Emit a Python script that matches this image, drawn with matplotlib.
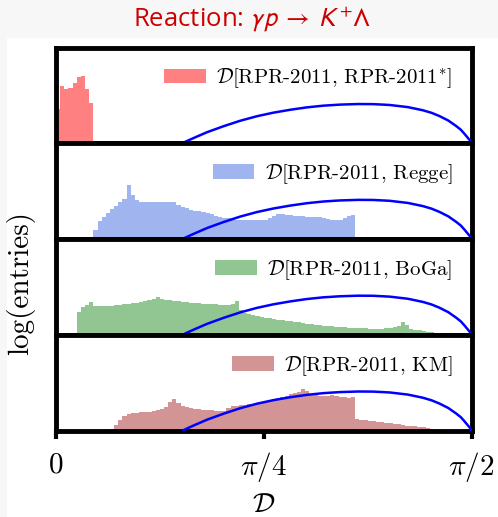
import numpy as np
import matplotlib
matplotlib.use("Agg")
import matplotlib.pyplot as plt
from matplotlib.patches import Rectangle

plt.rcParams['mathtext.fontset'] = 'cm'
plt.rcParams['axes.unicode_minus'] = False

# ---------------- data (heights as fraction of panel height, log scale) -------------
n_bins = 100
bin_width = (np.pi / 2) / n_bins

labels = [r'$\mathcal{D}$[RPR-2011, RPR-2011$^{*}$]',
          r'$\mathcal{D}$[RPR-2011, Regge]',
          r'$\mathcal{D}$[RPR-2011, BoGa]',
          r'$\mathcal{D}$[RPR-2011, KM]']
colors = ['#ff8080', '#a0b4f0', '#91c591', '#d29494']

rpr_star_start = 0
rpr_star = [0.36, 0.60, 0.57, 0.58, 0.63, 0.69, 0.70, 0.57, 0.42]

regge_start = 9
regge = [0.10, 0.187, 0.23, 0.273, 0.31, 0.35, 0.385, 0.42, 0.57, 0.46,
         0.41, 0.39, 0.39, 0.39, 0.39, 0.39, 0.39, 0.39, 0.39, 0.385,
         0.36, 0.34, 0.32, 0.305, 0.295, 0.29, 0.28, 0.273, 0.26, 0.245,
         0.23, 0.223, 0.216, 0.21, 0.205, 0.20, 0.198, 0.198, 0.198, 0.198,
         0.198, 0.205, 0.22, 0.24, 0.26, 0.263, 0.255, 0.248, 0.24, 0.237,
         0.237, 0.234, 0.234, 0.234, 0.227, 0.216, 0.21, 0.205, 0.20, 0.20,
         0.216, 0.24, 0.255]

boga_start = 5
boga = [0.236, 0.287, 0.316, 0.34, 0.298, 0.298, 0.30, 0.30, 0.305, 0.313,
        0.316, 0.32, 0.324, 0.33, 0.338, 0.345, 0.356, 0.37, 0.38, 0.40,
        0.38, 0.367, 0.36, 0.353, 0.35, 0.345, 0.342, 0.338, 0.335, 0.33,
        0.327, 0.327, 0.324, 0.32, 0.316, 0.313, 0.316, 0.324, 0.356, 0.265,
        0.233, 0.218, 0.207, 0.196, 0.19, 0.182, 0.175, 0.167, 0.16, 0.156,
        0.149, 0.142, 0.135, 0.131, 0.124, 0.116, 0.113, 0.109, 0.102, 0.098,
        0.095, 0.091, 0.087, 0.084, 0.08, 0.076, 0.076, 0.073, 0.069, 0.069,
        0.065, 0.065, 0.065, 0.065, 0.069, 0.073, 0.084, 0.098, 0.138, 0.105,
        0.065, 0.055, 0.047, 0.04, 0.036, 0.029]

km_start = 13
km = [0.022, 0.065, 0.108, 0.155, 0.173, 0.183, 0.19, 0.194, 0.198, 0.20,
      0.205, 0.212, 0.223, 0.248, 0.30, 0.335, 0.288, 0.263, 0.245, 0.237,
      0.23, 0.223, 0.22, 0.216, 0.212, 0.209, 0.209, 0.209, 0.237, 0.259,
      0.263, 0.266, 0.273, 0.277, 0.284, 0.291, 0.302, 0.309, 0.32, 0.327,
      0.338, 0.349, 0.367, 0.381, 0.396, 0.406, 0.435, 0.417, 0.388, 0.37,
      0.363, 0.36, 0.367, 0.37, 0.36, 0.353, 0.349, 0.345, 0.349, 0.122,
      0.112, 0.108, 0.104, 0.10, 0.097, 0.094, 0.086, 0.079, 0.072, 0.068,
      0.061, 0.054, 0.05, 0.047, 0.04, 0.036, 0.029, 0.022]

series = [(rpr_star_start, rpr_star), (regge_start, regge),
          (boga_start, boga), (km_start, km)]

# reference curve
curve_D = [0.477, 0.50, 0.52, 0.571, 0.635, 0.697, 0.76, 0.822, 0.885, 0.948,
           1.011, 1.074, 1.143, 1.20, 1.262, 1.33, 1.387, 1.42, 1.450, 1.483,
           1.513, 1.530, 1.544, 1.556, 1.565, 1.5708]
curve_h = [0.0, 0.03, 0.055, 0.116, 0.18, 0.236, 0.283, 0.32, 0.35, 0.375,
           0.393, 0.404, 0.41, 0.409, 0.40, 0.378, 0.345, 0.318, 0.284, 0.238,
           0.18, 0.143, 0.10, 0.06, 0.03, 0.0]

xticks = [0, np.pi / 4, np.pi / 2]
xticklabels = [r'$0$', r'$\pi/4$', r'$\pi/2$']

# ---------------- figure -------------
fig = plt.figure(figsize=(4.98, 5.17), dpi=100, facecolor='#f7f7f7')
fig.patches.append(Rectangle((7 / 498, 0), 1 - 7 / 498, 1 - 38 / 517,
                             transform=fig.transFigure, facecolor='white',
                             edgecolor='none', zorder=-10))

axes = fig.subplots(4, 1, sharex=True, gridspec_kw=dict(hspace=0))
fig.subplots_adjust(left=56 / 498, right=471.5 / 498,
                    bottom=1 - 430.8 / 517, top=1 - 47.5 / 517)

edges = np.arange(n_bins + 1) * bin_width
for ax, (start, vals), lab, col in zip(axes, series, labels, colors):
    left_edges = edges[start:start + len(vals)]
    ax.bar(left_edges, vals, width=bin_width, align='edge', color=col,
           linewidth=0, label=lab, zorder=1)
    ax.plot(curve_D, curve_h, color='#0000ff', lw=1.8, zorder=3,
            solid_capstyle='butt')
    ax.set_xlim(0, np.pi / 2)
    ax.set_ylim(0, 1)
    ax.set_yticks([])
    for s in ax.spines.values():
        s.set_linewidth(3.5)
    ax.tick_params(axis='x', which='both', length=0)
    ax.legend(loc='upper right', frameon=False,
              prop={'family': 'cmr10', 'size': 15},
              handlelength=2.0, handletextpad=0.5, borderaxespad=0.5)
    ax.set_facecolor('white')

axb = axes[-1]
axb.set_xticks(xticks)
axb.set_xticklabels(xticklabels, fontsize=21)
axb.tick_params(axis='x', length=6, width=3, direction='out', pad=8)
axb.set_xlabel(r'$\mathcal{D}$', fontsize=20, labelpad=4)

fig.text(21 / 498, 1 - 283 / 517, 'log(entries)', rotation=90,
         ha='center', va='center', family='cmr10', fontsize=21)

fig.text(0.506, 1 - 19 / 517,
         r'Reaction: $\gamma p\;\rightarrow\;K^{+}\Lambda$',
         ha='center', va='center', color='#cc0000', fontsize=18.5,
         family='Open Sans', math_fontfamily='stixsans')

fig.savefig('out.png', dpi=100, facecolor=fig.get_facecolor())
